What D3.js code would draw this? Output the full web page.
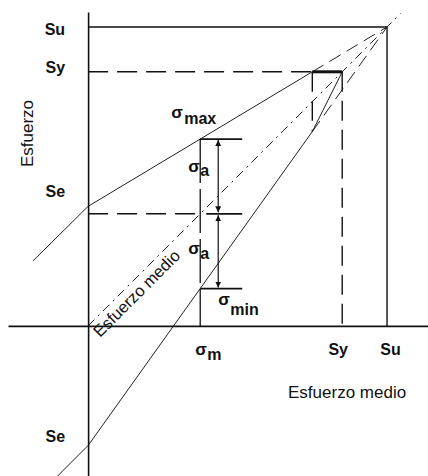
<!DOCTYPE html>
<html>
<head>
<meta charset="utf-8">
<script src="https://cdn.jsdelivr.net/npm/d3@7"></script>
<style>
  body { margin: 0; background: #fff; }
  svg { display: block; }
  text { font-family: "Liberation Sans", Arial, sans-serif; fill: #111; }
</style>
</head>
<body>
<svg id="chart" width="428" height="476"></svg>
<script>
// Material strengths (same units on both axes)
const Su = 100;   // ultimate strength
const Sy = 85;    // yield strength
const Se = 40;    // endurance limit

// Operating point
const sigmaM = 37.5;  // mean stress
const sigmaA = 25;    // alternating stress

// Axis tick values and their labels
const yTickValues = [Su, Sy, Se, -Se];
const yTickLabels = ["Su", "Sy", "Se", "Se"];
const xTickValues = [Sy, Su];
const xTickLabels = ["Sy", "Su"];

// Boundary lines of the modified Goodman diagram (stress units)
const upperSolid  = [[-18.4, 21.8], [0, Se], [75, Sy]];
const upperDashed = [[75, Sy], [Su, Su]];
const lowerSolid  = [[-10.5, -50.5], [0, -Se], [75, 65], [Sy, Sy]];
const lowerDashed = [[75, 65], [Su, Su]];
const yieldCap    = [[75, Sy], [Sy, Sy]];
const kneeDrop    = [[75, Sy], [75, 65]];
const meanLine    = [[0, 0], [104.5, 104.5]];

const sigmaMax = Se + (Su - Se) / Su * sigmaM;
const sigmaMin = sigmaM - sigmaA;

// ---- layout ----
const W = 428, H = 476;
const svg = d3.select("#chart");
const x = d3.scaleLinear().domain([-26.8, 113.7]).range([8, W]);
const y = d3.scaleLinear().domain([-50.2, 105]).range([H, 12]);
const line = d3.line().x(d => x(d[0])).y(d => y(d[1]));

const ink = "#111";
const longDash = "20,9";

// arrowhead marker
const defs = svg.append("defs");
defs.append("marker")
  .attr("id", "head")
  .attr("viewBox", "0 0 10 10")
  .attr("refX", 10).attr("refY", 5)
  .attr("markerUnits", "userSpaceOnUse")
  .attr("markerWidth", 6).attr("markerHeight", 6)
  .attr("orient", "auto-start-reverse")
  .append("path").attr("d", "M0,0 L10,5 L0,10 Z").attr("fill", ink);

// Su box
svg.append("path").attr("d", line([[0, Su], [Su, Su], [Su, 0]]))
  .attr("fill", "none").attr("stroke", ink).attr("stroke-width", 1.4);

// Sy reference (dashed)
svg.append("path").attr("d", line([[0, Sy], [75, Sy]]))
  .attr("fill", "none").attr("stroke", ink).attr("stroke-width", 1.4)
  .attr("stroke-dasharray", longDash);
svg.append("path").attr("d", line([[Sy, Sy], [Sy, 0]]))
  .attr("fill", "none").attr("stroke", ink).attr("stroke-width", 1.4)
  .attr("stroke-dasharray", longDash);
svg.append("path").attr("d", line(kneeDrop))
  .attr("fill", "none").attr("stroke", ink).attr("stroke-width", 1.4)
  .attr("stroke-dasharray", longDash);

// mean-stress level guide
svg.append("path").attr("d", line([[0, sigmaM], [sigmaM, sigmaM]]))
  .attr("fill", "none").attr("stroke", ink).attr("stroke-width", 1.4)
  .attr("stroke-dasharray", longDash);

// mean-stress line (dash-dot)
svg.append("path").attr("d", line(meanLine))
  .attr("fill", "none").attr("stroke", "#222").attr("stroke-width", 1)
  .attr("stroke-dasharray", "9,5,2,5");

// Goodman lines
svg.append("path").attr("d", line(upperSolid))
  .attr("fill", "none").attr("stroke", "#222").attr("stroke-width", 1);
svg.append("path").attr("d", line(lowerSolid))
  .attr("fill", "none").attr("stroke", "#222").attr("stroke-width", 1);
svg.append("path").attr("d", line(upperDashed))
  .attr("fill", "none").attr("stroke", "#222").attr("stroke-width", 1)
  .attr("stroke-dasharray", "13,7");
svg.append("path").attr("d", line(lowerDashed))
  .attr("fill", "none").attr("stroke", "#222").attr("stroke-width", 1)
  .attr("stroke-dasharray", "13,7");
svg.append("path").attr("d", line(yieldCap))
  .attr("fill", "none").attr("stroke", ink).attr("stroke-width", 3);

// mean-stress vertical
svg.append("path").attr("d", line([[sigmaM, sigmaMax], [sigmaM, 0]]))
  .attr("fill", "none").attr("stroke", ink).attr("stroke-width", 1.3)
  .attr("stroke-dasharray", "44,6");

// amplitude ticks and arrows
const xm = x(sigmaM);
const ax = xm + 18;
[[sigmaMax, 0], [sigmaM, 6], [sigmaMin, 0]].forEach(([v, off]) => {
  svg.append("line")
    .attr("x1", xm + off).attr("x2", xm + 42)
    .attr("y1", y(v)).attr("y2", y(v))
    .attr("stroke", ink).attr("stroke-width", 1.8);
});
[[sigmaMax, sigmaM, -1.5], [sigmaM, sigmaMin, 1.5]].forEach(([a, b, s]) => {
  svg.append("line")
    .attr("x1", ax).attr("x2", ax)
    .attr("y1", y(a) + (s > 0 ? s : 1)).attr("y2", y(b) + (s < 0 ? s : -1))
    .attr("stroke", ink).attr("stroke-width", 1.2)
    .attr("marker-start", "url(#head)").attr("marker-end", "url(#head)");
});

// axes
const yLabelNudge = [2, -4, -15, -9];
const gy = svg.append("g").attr("transform", `translate(${x(0)},0)`)
  .call(d3.axisLeft(y).tickValues(yTickValues)
    .tickFormat((d, i) => yTickLabels[i]).tickSize(0).tickSizeOuter(0).tickPadding(23));
gy.select(".domain").attr("stroke", ink).attr("stroke-width", 1.6);
gy.selectAll(".tick text")
  .attr("font-size", 16).attr("font-weight", "bold").attr("fill", ink)
  .attr("font-family", "'Liberation Sans', Arial, sans-serif")
  .attr("y", (d, i) => yLabelNudge[i]);

const xLabelNudge = [-4.5, 3];
const gx = svg.append("g").attr("transform", `translate(0,${y(0)})`)
  .call(d3.axisBottom(x).tickValues(xTickValues)
    .tickFormat((d, i) => xTickLabels[i]).tickSize(0).tickSizeOuter(0).tickPadding(18));
gx.select(".domain").attr("stroke", ink).attr("stroke-width", 1.6);
gx.selectAll(".tick text")
  .attr("font-size", 16).attr("font-weight", "bold").attr("fill", ink)
  .attr("font-family", "'Liberation Sans', Arial, sans-serif")
  .attr("x", (d, i) => xLabelNudge[i]);

// axis titles
svg.append("text")
  .attr("transform", "translate(33,133.5) rotate(-90)")
  .attr("text-anchor", "middle").attr("font-size", 17).attr("fill", "#333")
  .text("Esfuerzo");
svg.append("text")
  .attr("x", 288).attr("y", 398)
  .attr("font-size", 17).attr("fill", "#333")
  .text("Esfuerzo medio");
svg.append("text")
  .attr("transform", `translate(${x(0) + 12},${y(0) + 12}) rotate(-45)`)
  .attr("font-size", 16.5).attr("fill", "#333")
  .text("Esfuerzo medio");

// stress symbols with subscripts
function sigmaLabel(left, base, sub, subDx, subDy) {
  const t = svg.append("text").attr("font-weight", "bold").attr("fill", ink);
  t.append("tspan").attr("x", left).attr("y", base)
    .attr("font-size", 17).text("σ");
  t.append("tspan").attr("x", left + subDx).attr("y", base + subDy)
    .attr("font-size", 16).text(sub);
}
sigmaLabel(xm - 29, y(sigmaMax) - 21, "max", 13, 6);
sigmaLabel(xm - 12, y(sigmaMax) + 33, "a", 12, 4);
sigmaLabel(xm - 12, y(sigmaM) + 40, "a", 12, 5);
sigmaLabel(xm - 5, y(0) + 29, "m", 12, 5);
sigmaLabel(xm + 18, y(sigmaMin) + 16, "min", 12, 10);
</script>
</body>
</html>
